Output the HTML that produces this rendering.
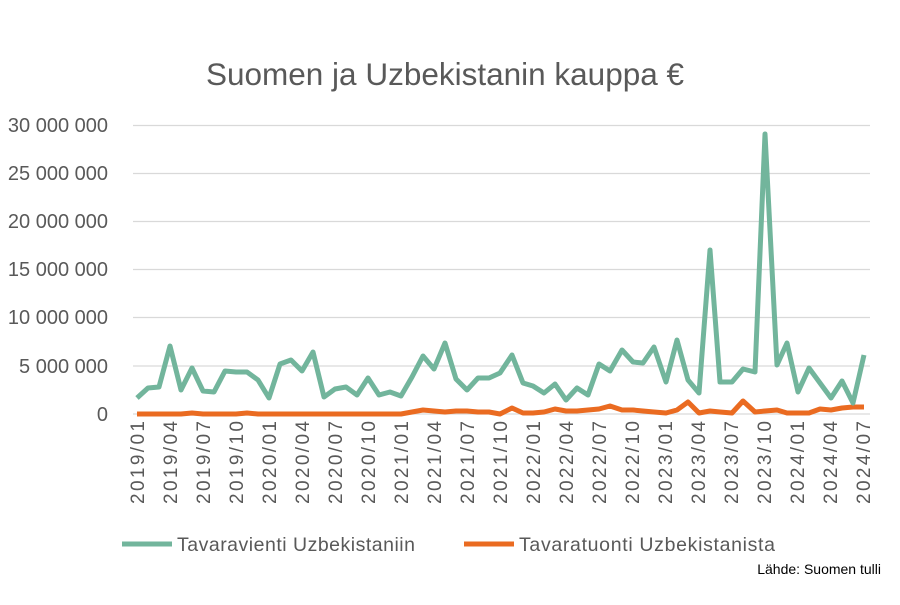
<!DOCTYPE html><html><head><style>body{margin:0;background:#fff}svg text{font-family:"Liberation Sans",sans-serif;fill:#595959}</style></head><body>
<svg width="900" height="600" xmlns="http://www.w3.org/2000/svg">
<text x="445" y="85" font-size="31.5" text-anchor="middle">Suomen ja Uzbekistanin kauppa €</text>
<g stroke="#d9d9d9" stroke-width="1.3">
<line x1="133" x2="870" y1="125.5" y2="125.5"/><line x1="133" x2="870" y1="173.5" y2="173.5"/><line x1="133" x2="870" y1="221.5" y2="221.5"/><line x1="133" x2="870" y1="269.5" y2="269.5"/><line x1="133" x2="870" y1="317.5" y2="317.5"/><line x1="133" x2="870" y1="366" y2="366"/><line x1="133" x2="870" y1="414" y2="414"/></g>
<g font-size="20" text-anchor="end"><text x="108" y="132">30 000 000</text><text x="108" y="180">25 000 000</text><text x="108" y="228">20 000 000</text><text x="108" y="276">15 000 000</text><text x="108" y="324">10 000 000</text><text x="108" y="373">5 000 000</text><text x="108" y="421">0</text></g>
<g font-size="19" text-anchor="end">
<text transform="translate(144,421) rotate(-90)" textLength="83">2019/01</text><text transform="translate(177,421) rotate(-90)" textLength="83">2019/04</text><text transform="translate(210,421) rotate(-90)" textLength="83">2019/07</text><text transform="translate(243,421) rotate(-90)" textLength="83">2019/10</text><text transform="translate(276,421) rotate(-90)" textLength="83">2020/01</text><text transform="translate(309,421) rotate(-90)" textLength="83">2020/04</text><text transform="translate(342,421) rotate(-90)" textLength="83">2020/07</text><text transform="translate(375,421) rotate(-90)" textLength="83">2020/10</text><text transform="translate(408,421) rotate(-90)" textLength="83">2021/01</text><text transform="translate(441,421) rotate(-90)" textLength="83">2021/04</text><text transform="translate(474,421) rotate(-90)" textLength="83">2021/07</text><text transform="translate(507,421) rotate(-90)" textLength="83">2021/10</text><text transform="translate(540,421) rotate(-90)" textLength="83">2022/01</text><text transform="translate(573,421) rotate(-90)" textLength="83">2022/04</text><text transform="translate(606,421) rotate(-90)" textLength="83">2022/07</text><text transform="translate(639,421) rotate(-90)" textLength="83">2022/10</text><text transform="translate(672,421) rotate(-90)" textLength="83">2023/01</text><text transform="translate(705,421) rotate(-90)" textLength="83">2023/04</text><text transform="translate(738,421) rotate(-90)" textLength="83">2023/07</text><text transform="translate(771,421) rotate(-90)" textLength="83">2023/10</text><text transform="translate(804,421) rotate(-90)" textLength="83">2024/01</text><text transform="translate(837,421) rotate(-90)" textLength="83">2024/04</text><text transform="translate(870,421) rotate(-90)" textLength="83">2024/07</text></g>
<polyline fill="none" stroke="#ea6b21" stroke-width="5" stroke-linejoin="round" points="137,414 148,414 159,414 170,414 181,414 192,413 203,414 214,414 225,414 236,414 247,413 258,414 269,414 280,414 291,414 302,414 313,414 324,414 335,414 346,414 357,414 368,414 379,414 390,414 401,414 412,412 423,410 434,411 445,412 456,411 467,411 478,412 489,412 500,414 512,408 523,413 533,413 544,412 555,409 566,411 577,411 588,410 599,409 610,406 622,410 633,410 643,411 654,412 666,413 677,410 688,402 699,413 710,411 720,412 732,413 743,401 755,412 765,411 777,410 787,413 798,413 809,413 820,409 831,410 842,408 853,407 864,407"/>
<polyline fill="none" stroke="#72b59c" stroke-width="5" stroke-linejoin="round" points="137,398 148,388 159,387 170,346 181,390 192,368 203,391 214,392 225,371 236,372 247,372 258,380 269,398 280,364 291,360 302,371 313,352 324,397 335,389 346,387 357,395 368,378 379,395 390,392 401,396 412,377 423,356 434,369 445,343 456,379 467,390 478,378 489,378 500,373 512,355 523,383 533,386 544,393 555,384 566,400 577,388 588,395 599,364 610,371 622,350 633,362 643,363 654,347 666,382 677,340 688,380 699,393 710,250 720,382 732,382 743,369 755,372 765,134 777,365 787,343 798,392 809,368 820,383 831,398 842,381 853,403 864,355"/>
<line x1="122" x2="172" y1="544" y2="544" stroke="#72b59c" stroke-width="5"/>
<text x="177" y="551" font-size="19.5" textLength="238">Tavaravienti Uzbekistaniin</text>
<line x1="464" x2="514" y1="544" y2="544" stroke="#ea6b21" stroke-width="5"/>
<text x="519" y="551" font-size="19.5" textLength="256">Tavaratuonti Uzbekistanista</text>
<text x="881" y="574" font-size="14" text-anchor="end" style="fill:#000">Lähde: Suomen tulli</text>
</svg></body></html>
